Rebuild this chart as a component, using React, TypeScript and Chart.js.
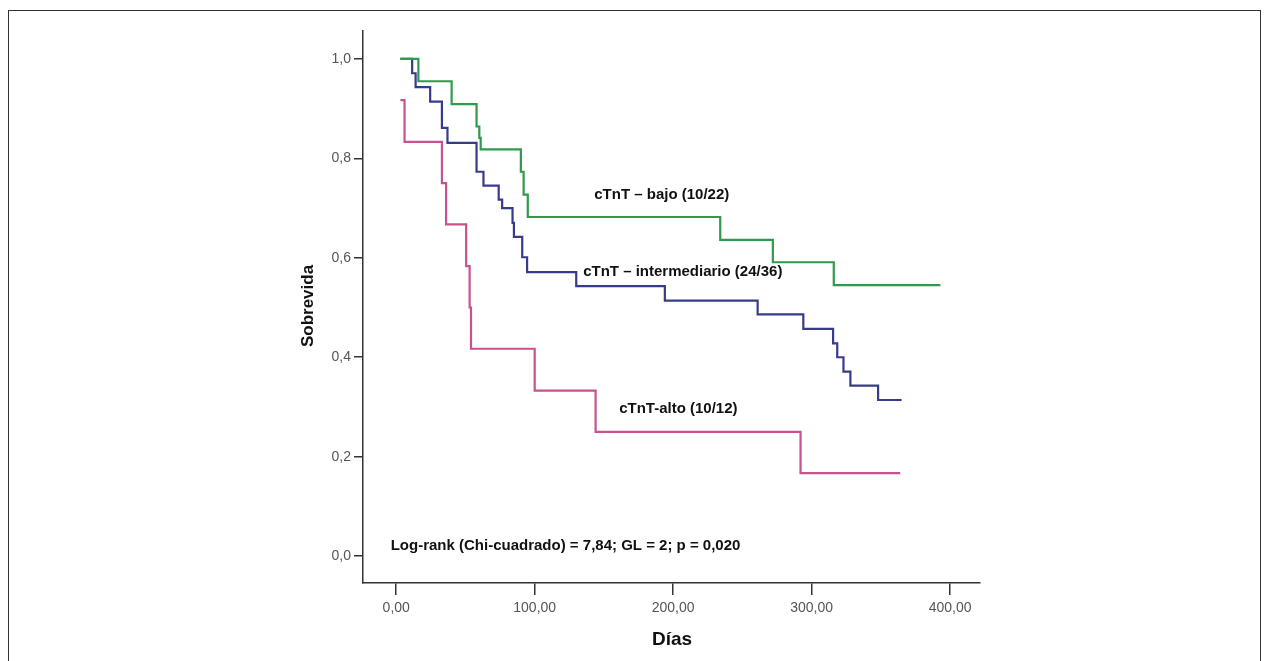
import { useEffect, useRef } from 'react'
import Chart from 'chart.js/auto'

// Kaplan-Meier steps: time (días) and survival after each event
const bajoT = [3, 16, 40, 58, 60, 61, 90, 92, 95, 234, 272, 316, 393]
const bajoS = [1, 0.955, 0.909, 0.864, 0.841, 0.818, 0.773, 0.727, 0.682, 0.636, 0.591, 0.545, 0.545]

const interT = [3, 11.5, 14, 24.5, 33, 37, 58, 63, 74, 76.5, 84, 85, 91, 94.5, 130, 194, 261, 294, 315.5, 318.5, 323, 328, 348, 365]
const interS = [1, 0.971, 0.943, 0.914, 0.861, 0.831, 0.773, 0.745, 0.717, 0.7, 0.67, 0.642, 0.601, 0.571, 0.543, 0.514, 0.486, 0.457, 0.428, 0.4, 0.371, 0.343, 0.314, 0.314]

const altoT = [3, 6, 33, 36, 50.5, 53, 54, 100, 144, 292, 364]
const altoS = [0.917, 0.833, 0.75, 0.667, 0.583, 0.5, 0.417, 0.333, 0.25, 0.167, 0.167]

const xTicks = [0, 100, 200, 300, 400]
const yTicks = [0, 0.2, 0.4, 0.6, 0.8, 1.0]

const toPoints = (t: number[], s: number[]) => t.map((x, i) => ({ x, y: s[i] }))

const FONT = "'Liberation Sans Narrow', 'Liberation Sans', Arial, sans-serif"

const decorations = {
  id: 'decorations',
  afterDraw(chart: any) {
    const { ctx } = chart
    const xs = chart.scales.x
    const ys = chart.scales.y
    ctx.save()
    ctx.strokeStyle = '#333'
    ctx.lineWidth = 1
    ctx.strokeRect(8.5, 10.5, 1252, 700)

    ctx.fillStyle = '#111'
    ctx.textBaseline = 'middle'
    ctx.textAlign = 'left'
    ctx.font = `bold 15px ${FONT}`
    ctx.fillText('cTnT – bajo (10/22)', xs.getPixelForValue(143), ys.getPixelForValue(0.727))
    ctx.fillText('cTnT – intermediario (24/36)', xs.getPixelForValue(135), ys.getPixelForValue(0.572))
    ctx.fillText('cTnT-alto (10/12)', xs.getPixelForValue(161), ys.getPixelForValue(0.296))
    ctx.fillText('Log-rank (Chi-cuadrado) = 7,84; GL = 2; p = 0,020', xs.getPixelForValue(-4), ys.getPixelForValue(0.021))

    ctx.font = `bold 19px ${FONT}`
    ctx.textAlign = 'center'
    ctx.fillText('Días', 672, 640)
    ctx.translate(308, 306)
    ctx.rotate(-Math.PI / 2)
    ctx.font = `bold 17px ${FONT}`
    ctx.fillText('Sobrevida', 0, 0)
    ctx.restore()
  },
}

export default function App() {
  const canvasRef = useRef<HTMLCanvasElement>(null)

  useEffect(() => {
    document.body.style.margin = '0'
    if (!canvasRef.current) return
    const line = (label: string, data: any, color: string) => ({
      label,
      data,
      borderColor: color,
      borderWidth: 2.2,
      pointRadius: 0,
      stepped: 'before' as const,
      fill: false,
    })
    const chart = new Chart(canvasRef.current, {
      type: 'line',
      data: {
        datasets: [
          line('cTnT – bajo', toPoints(bajoT, bajoS), '#2f9a4c'),
          line('cTnT – intermediario', toPoints(interT, interS), '#363b8c'),
          line('cTnT-alto', toPoints(altoT, altoS), '#c7528f'),
        ],
      },
      options: {
        animation: false,
        responsive: false,
        devicePixelRatio: 1,
        layout: { padding: { top: 31, right: 289, left: 0, bottom: 0 } },
        plugins: { legend: { display: false }, tooltip: { enabled: false } },
        scales: {
          x: {
            type: 'linear',
            min: -24,
            max: 421.6,
            afterBuildTicks: (s: any) => { s.ticks = xTicks.map((v) => ({ value: v })) },
            afterFit: (s: any) => { s.height = 78 },
            grid: { drawOnChartArea: false, tickLength: 12, color: '#333', lineWidth: 1.5 },
            border: { display: true, color: '#333', width: 1.5 },
            ticks: {
              color: '#555',
              font: { family: 'Arial, Liberation Sans, sans-serif', size: 14 },
              padding: 5,
              callback: (v: any) => `${Number(v).toFixed(2).replace('.', ',')}`,
            },
          },
          y: {
            min: -0.054,
            max: 1.056,
            afterBuildTicks: (s: any) => { s.ticks = yTicks.map((v) => ({ value: v })) },
            afterFit: (s: any) => { s.width = 363 },
            grid: { drawOnChartArea: false, tickLength: 9, color: '#333', lineWidth: 1.5 },
            border: { display: true, color: '#333', width: 1.5 },
            ticks: {
              color: '#555',
              font: { family: 'Arial, Liberation Sans, sans-serif', size: 14 },
              padding: 3,
              callback: (v: any) => Number(v).toFixed(1).replace('.', ','),
            },
          },
        },
      },
      plugins: [decorations],
    })
    return () => chart.destroy()
  }, [])

  return <canvas ref={canvasRef} width={1269} height={661} style={{ display: 'block' }} />
}
